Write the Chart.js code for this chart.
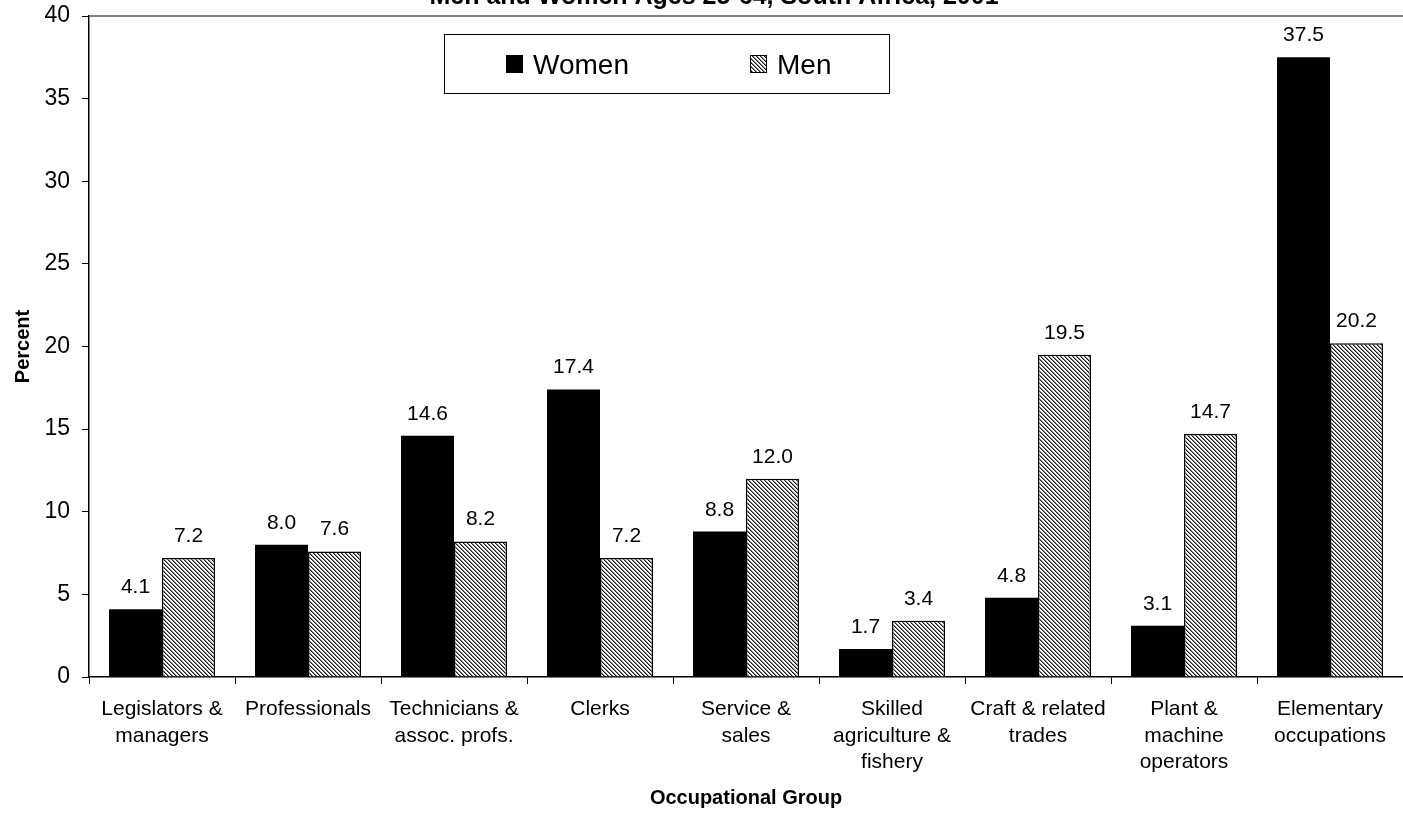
<!DOCTYPE html>
<html>
<head>
<meta charset="utf-8">
<script src="https://cdn.jsdelivr.net/npm/chart.js@4.4.1/dist/chart.umd.min.js"></script>
<style>
  html, body { margin: 0; padding: 0; background: #fff; }
  #wrap { width: 1403px; height: 814px; }
</style>
</head>
<body>
<div id="wrap"><canvas id="c" width="1403" height="814"></canvas></div>
<script>
const chartTitle = "Men and Women Ages 25-64, South Africa, 2001";
const categories = [
  ["Legislators &", "managers"],
  ["Professionals"],
  ["Technicians &", "assoc. profs."],
  ["Clerks"],
  ["Service &", "sales"],
  ["Skilled", "agriculture &", "fishery"],
  ["Craft & related", "trades"],
  ["Plant &", "machine", "operators"],
  ["Elementary", "occupations"]
];
const women = [4.1, 8.0, 14.6, 17.4, 8.8, 1.7, 4.8, 3.1, 37.5];
const men = [7.2, 7.6, 8.2, 7.2, 12.0, 3.4, 19.5, 14.7, 20.2];
const seriesNames = ["Women", "Men"];
const yMin = 0, yMax = 40, yStep = 5;
const xTitle = "Occupational Group";
const yTitle = "Percent";

const FONT = "'Liberation Sans', Arial, Helvetica, sans-serif";

function makeHatch() {
  const c = document.createElement('canvas');
  c.width = 4; c.height = 4;
  const g = c.getContext('2d');
  g.fillStyle = '#ffffff';
  g.fillRect(0, 0, 4, 4);
  for (let i = 0; i < 4; i++) {
    for (let j = 0; j < 4; j++) {
      const d = ((i - j) % 4 + 4) % 4;
      if (d === 0) { g.fillStyle = '#111111'; g.fillRect(i, j, 1, 1); }
      else if (d === 1) { g.fillStyle = '#888888'; g.fillRect(i, j, 1, 1); }
    }
  }
  return g.createPattern(c, 'repeat');
}
const hatch = makeHatch();

const decor = {
  id: 'decor',
  afterDatasetsDraw(chart) {
    const ctx = chart.ctx;
    const area = chart.chartArea;
    ctx.save();
    // top plot border
    ctx.strokeStyle = '#808080';
    ctx.lineWidth = 2;
    ctx.beginPath();
    ctx.moveTo(area.left, area.top);
    ctx.lineTo(area.right, area.top);
    ctx.stroke();
    // value labels
    ctx.fillStyle = '#000';
    ctx.font = "21px " + FONT;
    ctx.textAlign = 'center';
    ctx.textBaseline = 'alphabetic';
    chart.data.datasets.forEach((ds, di) => {
      const meta = chart.getDatasetMeta(di);
      meta.data.forEach((bar, i) => {
        ctx.fillText(ds.data[i].toFixed(1), bar.x, bar.y - 16);
      });
    });
    // title (mostly cut off at top)
    ctx.font = "bold 25px " + FONT;
    ctx.fillText(chartTitle, 714, 4);
    // legend box
    ctx.strokeStyle = '#000';
    ctx.lineWidth = 1;
    ctx.fillStyle = '#fff';
    ctx.fillRect(444.5, 34.5, 445, 59);
    ctx.strokeRect(444.5, 34.5, 445, 59);
    ctx.textAlign = 'left';
    ctx.font = "28px " + FONT;
    const items = [
      { x: 506, tx: 533, ds: chart.data.datasets[0] },
      { x: 750, tx: 777, ds: chart.data.datasets[1] }
    ];
    items.forEach(it => {
      ctx.fillStyle = it.ds.backgroundColor;
      ctx.fillRect(it.x, 55, 17, 18);
      ctx.strokeStyle = '#000';
      ctx.lineWidth = 1;
      ctx.strokeRect(it.x + 0.5, 55.5, 16, 17);
      ctx.fillStyle = '#000';
      ctx.fillText(it.ds.label, it.tx, 74);
    });
    ctx.restore();
  }
};

new Chart(document.getElementById('c'), {
  type: 'bar',
  data: {
    labels: categories,
    datasets: [
      {
        label: seriesNames[0],
        data: women,
        backgroundColor: '#000000',
        borderColor: '#000000',
        borderWidth: 0,
        barPercentage: 1.0,
        categoryPercentage: 0.726
      },
      {
        label: seriesNames[1],
        data: men,
        backgroundColor: hatch,
        borderColor: '#000000',
        borderWidth: 1.5,
        barPercentage: 1.0,
        categoryPercentage: 0.726
      }
    ]
  },
  options: {
    responsive: false,
    animation: false,
    devicePixelRatio: 1,
    layout: { padding: { top: 16, right: 0, left: 0, bottom: 0 } },
    plugins: {
      legend: { display: false },
      title: { display: false },
      tooltip: { enabled: false }
    },
    scales: {
      x: {
        type: 'category',
        afterFit(scale) { scale.height = 137; scale.paddingLeft = 0; scale.paddingRight = 0; },
        grid: { display: true, offset: true, drawOnChartArea: false, drawTicks: true, tickLength: 7, color: '#000', lineWidth: 1 },
        border: { display: true, color: '#000', width: 1.5 },
        ticks: {
          color: '#000',
          font: { family: FONT, size: 21, lineHeight: 1.27 },
          padding: 12,
          maxRotation: 0,
          minRotation: 0,
          autoSkip: false
        },
        title: {
          display: true,
          text: xTitle,
          color: '#000',
          font: { family: FONT, size: 20, weight: 'bold', lineHeight: 1.2 },
          padding: { top: 0, bottom: 4 }
        }
      },
      y: {
        min: yMin,
        max: yMax,
        afterFit(scale) { scale.width = 89; scale.paddingTop = 0; scale.paddingBottom = 0; },
        grid: { display: true, drawOnChartArea: false, drawTicks: true, tickLength: 7, color: '#000', lineWidth: 1 },
        border: { display: true, color: '#000', width: 1.5 },
        ticks: {
          stepSize: yStep,
          color: '#000',
          font: { family: FONT, size: 23 },
          padding: 12
        },
        title: {
          display: true,
          text: yTitle,
          color: '#000',
          font: { family: FONT, size: 20, weight: 'bold', lineHeight: 1.2 },
          padding: { top: 11, bottom: 0 }
        }
      }
    }
  },
  plugins: [decor]
});
</script>
</body>
</html>
